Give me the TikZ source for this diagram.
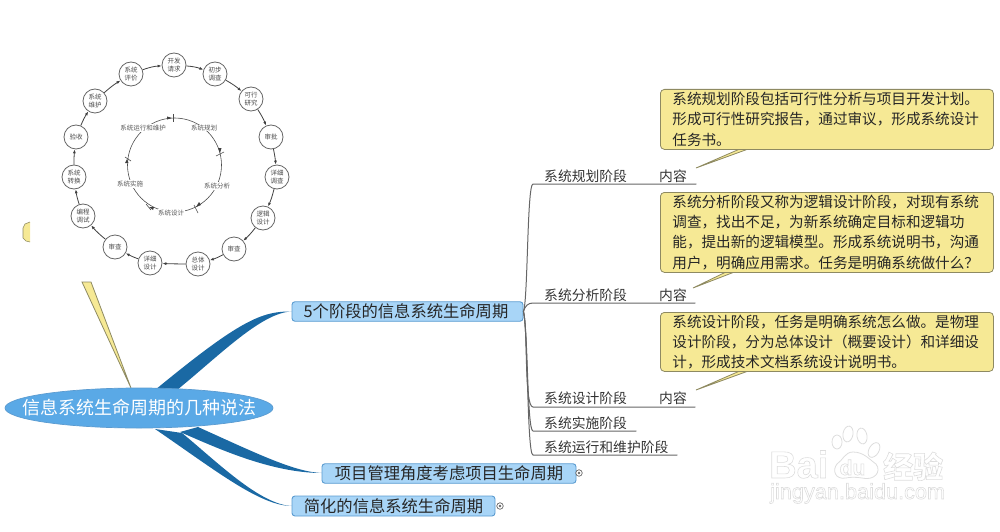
\documentclass[tikz,border=0pt]{standalone}
\usepackage{fontspec}
\setmainfont{Noto Sans CJK SC}
\newfontfamily\latinw{Liberation Sans}
\usetikzlibrary{shapes.geometric,arrows.meta}
\definecolor{branch}{HTML}{1A69A4}
\definecolor{rootfill}{HTML}{5AA9E6}
\definecolor{boxfill}{HTML}{A8D5F7}
\definecolor{boxline}{HTML}{5A9BD0}
\definecolor{noteF}{HTML}{F6E995}
\definecolor{noteL}{HTML}{8E8A62}
\definecolor{wm}{HTML}{DDDDDD}
\newcommand{\hollow}[1]{\special{pdf:code 1 Tr 0.6 w}#1\special{pdf:code 0 Tr}}
\tikzset{
  stage/.style={circle,draw=black!60,fill=white,line width=.8pt,minimum size=24pt,inner sep=0pt,font=\fontsize{6.5}{8}\selectfont,text=black!70,align=center},
  inlabel/.style={fill=white,inner sep=.5pt,font=\fontsize{6.5}{8}\selectfont,text=black!65},
  ring/.style={draw=black!75,line width=.8pt,-{Latex[length=4pt,width=3pt]}},
  topic/.style={draw=boxline,fill=boxfill,rounded corners=3pt,line width=.9pt,inner sep=0pt,font=\fontsize{16.3}{18}\selectfont,text=black!85},
  rootnode/.style={ellipse,draw=boxline,fill=rootfill,line width=.7pt,inner xsep=-60pt,inner ysep=-8pt,minimum width=268pt,minimum height=40pt,font=\fontsize{18}{20}\selectfont,text=white},
  note/.style={draw=noteL,fill=noteF,rounded corners=4pt,line width=.8pt,inner sep=0pt,text width=309pt,inner xsep=12pt,font=\fontsize{14.6}{20.2}\selectfont,text=black!85,align=left,anchor=north west},
  tail/.style={draw=noteL,fill=noteF,line width=.8pt},
  sub/.style={inner sep=0pt,font=\fontsize{13.8}{15}\selectfont,text=black!80},
  rule/.style={draw=black!60,line width=1pt,line cap=round},
  folder/.style={circle,draw=black!60,fill=white,line width=.7pt,minimum size=6.5pt,inner sep=0pt,path picture={\fill[black!60] (path picture bounding box.center) circle (1.3pt);}},
  wmtxt/.style={inner sep=0pt,text=wm},
  wmline/.style={draw=wm,line width=.8pt,fill=white},
}
\begin{document}
\begin{tikzpicture}[x=1pt,y=-1pt]
\useasboundingbox (0,0) rectangle (1000,532);
% hidden yellow callout and its spike
\fill[noteF] (30,222) -- (25,224) -- (23,228) -- (23,238) -- (26,241) -- (30,242) -- cycle;
\draw[noteL,line width=.6pt] (30,222) -- (25,224) -- (23,228) -- (23,238) -- (26,241) -- (30,242);
\path[tail] (82,282) -- (91,282) -- (131,388) -- cycle;
% main branches
\fill[branch] (155,390) -- (177,390) .. controls (220,355) and (262,312) .. (292,311.5) .. controls (262,311) and (240,320) .. cycle;
\fill[branch] (198,427) -- (180,432) .. controls (215,447) and (270,473) .. (322,473) .. controls (295,472) and (260,455) .. cycle;
\fill[branch] (155,429) -- (182,433) .. controls (215,460) and (260,505) .. (292,506) .. controls (260,506) and (215,470) .. cycle;
% root and topics
\node[rootnode] (root) at (139,408) {信息系统生命周期的几种说法};
\node[topic,minimum width=231pt,minimum height=19.5pt] (t1) at (407.5,311.5) {\hspace*{-3pt}5个阶段的信息系统生命周期};
\node[topic,minimum width=254pt,minimum height=19.5pt] (t2) at (449,473.5) {项目管理角度考虑项目生命周期};
\node[topic,minimum width=203pt,minimum height=20pt] (t3) at (393.5,506) {简化的信息系统生命周期};
\node[folder] (f2) at (579,473) {};
\node[folder] (f3) at (500,506) {};
% tree
\coordinate (o) at (t1.east);
\coordinate (s1) at (533,184); \coordinate (e1) at (696,184);
\coordinate (s2) at (533,303); \coordinate (e2) at (695,303);
\coordinate (s3) at (533,407); \coordinate (e3) at (695,407);
\coordinate (s4) at (533,431); \coordinate (e4) at (636,431);
\coordinate (s5) at (533,455); \coordinate (e5) at (677,455);
\draw[rule] (o) .. controls (528,300) and (527,184) .. (s1) -- (e1);
\draw[rule] (o) .. controls (525,306) and (528,303) .. (s2) -- (e2);
\draw[rule] (o) .. controls (528,330) and (524,407) .. (s3) -- (e3);
\draw[rule] (o) .. controls (528,330) and (527,431) .. (s4) -- (e4);
\draw[rule] (o) .. controls (528,330) and (527,455) .. (s5) -- (e5);
\node[sub,anchor=base west] (a1) at (544,181) {系统规划阶段};
\node[sub,anchor=base west] (a2) at (544,300) {系统分析阶段};
\node[sub,anchor=base west] (a3) at (544,403.5) {系统设计阶段};
\node[sub,anchor=base west] (a4) at (544,428) {系统实施阶段};
\node[sub,anchor=base west] (a5) at (544,452) {系统运行和维护阶段};
\node[sub,anchor=base west] (c1) at (659,181) {内容};
\node[sub,anchor=base west] (c2) at (659,300) {内容};
\node[sub,anchor=base west] (c3) at (659,403.5) {内容};
% notes
\path[tail] (742,148) -- (751,148) -- (696,168) -- cycle;
\path[tail] (728,271) -- (737,271) -- (693,288) -- cycle;
\path[tail] (742,370) -- (751,370) -- (696,390) -- cycle;
\node[note,minimum height=60pt] (n1) at (660,89) {系统规划阶段包括可行性分析与项目开发计划。\\形成可行性研究报告，通过审议，形成系统设计\\任务书。};
\node[note,minimum height=80pt] (n2) at (660,192) {系统分析阶段又称为逻辑设计阶段，对现有系统\\调查，找出不足，为新系统确定目标和逻辑功\\能，提出新的逻辑模型。形成系统说明书，沟通\\用户，明确应用需求。任务是明确系统做什么？};
\node[note,minimum height=59pt] (n3) at (660,312) {系统设计阶段，任务是明确系统怎么做。是物理\\设计阶段，分为总体设计（概要设计）和详细设\\计，形成技术文档系统设计说明书。};
% lifecycle picture
\node[stage] (r1) at (174,65) {开发\\请求};
\node[stage] (r2) at (215,74) {初步\\调查};
\node[stage] (r3) at (251,99) {可行\\研究};
\node[stage] (r4) at (271,137) {审批};
\node[stage] (r5) at (277,177) {详细\\调查};
\node[stage] (r6) at (263,218) {逻辑\\设计};
\node[stage] (r7) at (234,249) {审查};
\node[stage] (r8) at (198,264) {总体\\设计};
\node[stage] (r9) at (150,263) {详细\\设计};
\node[stage] (r10) at (115,247) {审查};
\node[stage] (r11) at (83,216) {编程\\调试};
\node[stage] (r12) at (74,177) {系统\\转换};
\node[stage] (r13) at (76,137) {验收};
\node[stage] (r14) at (95,101) {系统\\维护};
\node[stage] (r15) at (131,74) {系统\\评价};
\foreach \a/\b/\c in {r1/r2/8,r2/r3/5,r3/r4/5,r4/r5/3,r5/r6/5,r6/r7/5,r7/r8/5,r8/r9/1,r9/r10/5,r10/r11/5,r11/r12/5,r12/r13/3,r13/r14/5,r14/r15/5,r15/r1/8}
  \draw[ring] (\a) to[bend left=\c] (\b);
% inner cycle
\draw[black!70,line width=.6pt] (174.5,165) circle (47);
\draw[black!70,line width=.6pt] (173,114) -- (173,122);
\draw[black!70,line width=.6pt] (216,156) -- (224,152);
\draw[black!70,line width=.6pt] (194,205) -- (198,213);
\draw[black!70,line width=.6pt] (146,204) -- (151,210);
\draw[black!70,line width=.6pt] (125,157) -- (131,161);
\fill[black!75] (172,118) -- (167,116.5) -- (167,119.5) -- cycle;
\fill[black!75] (220,153) -- (218,148) -- (221.5,148) -- cycle;
\fill[black!75] (196,207) -- (201,205) -- (199,202) -- cycle;
\fill[black!75] (149,207) -- (153,210) -- (154,207) -- cycle;
\fill[black!75] (127,159) -- (125,163) -- (128.5,163) -- cycle;
\node[inlabel] (i1) at (204,128) {系统规划};
\node[inlabel] (i2) at (217,186) {系统分析};
\node[inlabel] (i3) at (171,213) {系统设计};
\node[inlabel] (i4) at (130,184) {系统实施};
\node[inlabel] (i5) at (143,128) {系统运行和维护};
% watermark
\node[wmtxt,anchor=base west,font=\latinw\bfseries\fontsize{38}{38}\selectfont] (w1) at (769,478) {\hollow{Bai}};
\draw[wmline] (837,442) ellipse (5 and 7);
\draw[wmline,rotate around={-10:(848,434)}] (848,434) ellipse (5 and 8);
\draw[wmline,rotate around={10:(862,436)}] (862,436) ellipse (5 and 8);
\draw[wmline,rotate around={-30:(874,450)}] (874,450) ellipse (5 and 8);
\draw[wmline] (853,452) .. controls (845,452) and (843,460) .. (837,464) .. controls (832,470) and (835,480) .. (846,478) .. controls (850,477) and (856,477) .. (862,478) .. controls (874,481) and (882,472) .. (876,464) .. controls (870,460) and (864,452) .. cycle;
\node[wmtxt,anchor=base,font=\latinw\bfseries\fontsize{21}{21}\selectfont] (w2) at (852.5,475) {\hollow{du}};
\node[wmtxt,anchor=base west,font=\bfseries\fontsize{30}{30}\selectfont] (w3) at (883,478) {\hollow{经验}};
\node[wmtxt,anchor=base west,font=\latinw\fontsize{21.7}{22}\selectfont] (w4) at (770,499) {\hollow{jingyan.baidu.com}};
\end{tikzpicture}
\end{document}
